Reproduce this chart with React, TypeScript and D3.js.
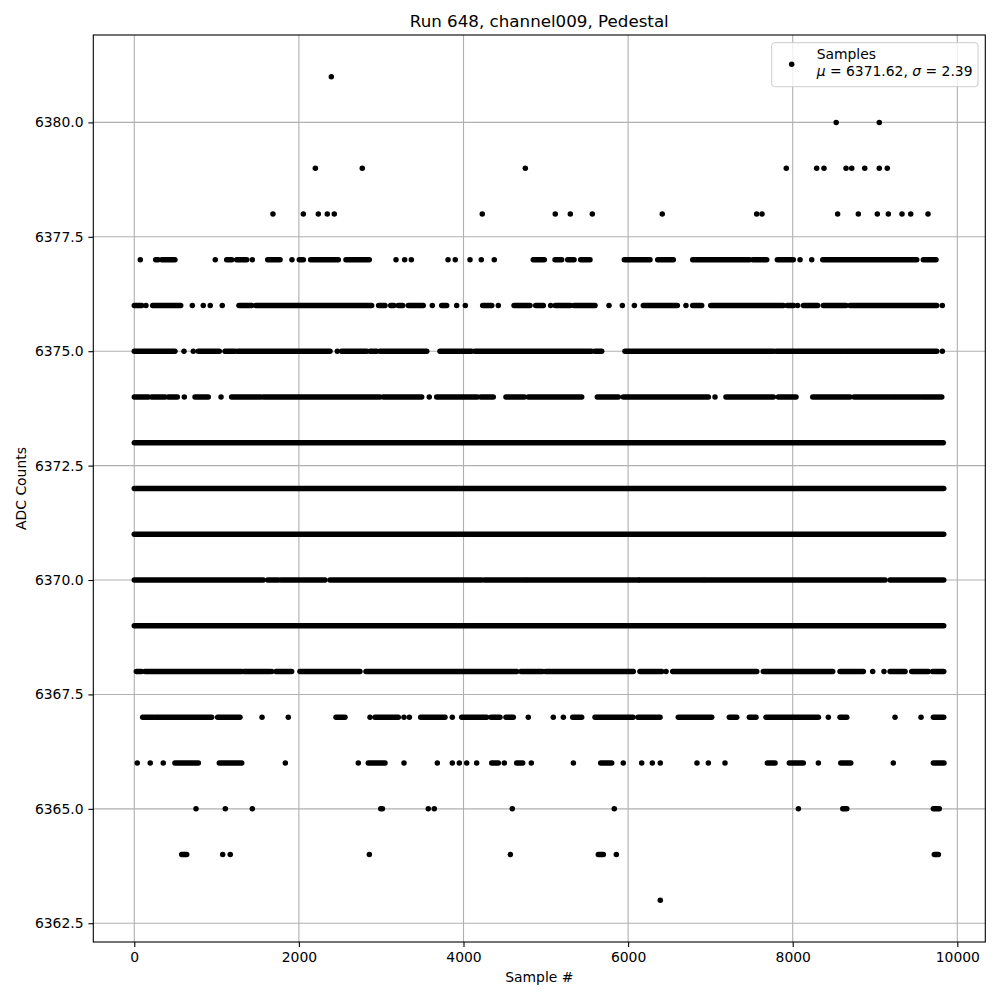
import { useEffect, useRef } from 'react'
import * as d3 from 'd3'

type Run = [number, number?]

const xTicks = [0, 2000, 4000, 6000, 8000, 10000]
const yTicks = [6362.5, 6365, 6367.5, 6370, 6372.5, 6375, 6377.5, 6380]

// runs of samples: [first, last] or [single]
const runs6381: Run[] = [[2394]]
const runs6380: Run[] = [[8528], [9052]]
const runs6379: Run[] = [[2200], [2770], [4751], [7922], [8291], [8380], [8648], [8717], [8875], [9052], [9149]]
const runs6378: Run[] = [[1685], [2054], [2236], [2345], [2430], [4228], [5115], [5298], [5565], [6415], [7562], [7627], [8546], [8797], [9028], [9162], [9328], [9434], [9644]]
const runs6377: Run[] = [[73], [260, 290], [335, 494], [984], [1123, 1184], [1244, 1366], [1434], [1621, 1771], [1916], [2005, 2054], [2143, 2479], [2572, 2855], [3180], [3285], [3366], [3812], [3900], [4079], [4216], [4374], [4848, 4982], [5112, 5193], [5266, 5343], [5424, 5537], [5954, 6266], [6360, 6549], [6785, 7473], [7514, 7684], [7813, 8007], [8089], [8231], [8365, 9507], [9587, 9741]]
const runs6376: Run[] = [[0, 90], [142], [223, 564], [705], [838], [923], [1069], [1272, 1426], [1475, 2884], [2969, 3046], [3115, 3155], [3208, 3261], [3329, 3511], [3621], [3735, 3796], [3917], [4022], [4233, 4343], [4423], [4614, 4808], [4877, 4970], [5059], [5115, 5302], [5343, 5598], [5768], [5930], [6076], [6185, 6598], [6703], [6785, 6894], [7004, 7886], [7934, 8010], [8060], [8130, 8303], [8372, 8648], [8696, 9750], [9818]]
const runs6375: Run[] = [[0, 494], [604], [717], [778, 1033], [1102, 1224], [1256, 2378], [2467], [2520, 2824], [2864, 2945], [2985, 3553], [3714, 4100], [4140, 5558], [5598, 5679], [5962, 7765], [7797, 8615], [8636, 9750], [9818]]
const runs6374: Run[] = [[0, 170], [211, 373], [413, 523], [608], [738, 899], [1054], [1183, 1536], [1567, 2985], [3025, 3492], [3584], [3674, 4168], [4209, 4362], [4516, 4739], [4787, 5436], [5626, 5881], [5941, 6975], [7056], [7189, 7765], [7825, 8040], [8243, 8696], [8745, 9231], [9255, 9547], [9575, 9811]]
const runs6373: Run[] = [[0, 9830]]
const runs6372: Run[] = [[0, 9835]]
const runs6371: Run[] = [[0, 9835]]
const runs6370: Run[] = [[0, 1567], [1621, 1750], [1782, 2013], [2041, 2317], [2378, 4221], [4253, 4747], [4768, 5941], [5966, 6124], [6136, 6914], [6934, 9122], [9183, 9835]]
const runs6369: Run[] = [[0, 9835]]
const runs6368: Run[] = [[25, 85], [130, 1305], [1333, 1649], [1669], [1722, 1912], [2013, 2742], [2815, 4646], [4699, 4962], [4994, 6063], [6144, 6408], [6461], [6542, 7563], [7643, 8486], [8575, 8858], [8972], [9109], [9183, 9365], [9446, 9648], [9701, 9835]]
const runs6367: Run[] = [[102, 231], [255, 940], [1013, 1284], [1552], [1871], [2451, 2560], [2864], [2925, 3208], [3277], [3342], [3480, 3775], [3864], [3978, 4282], [4334, 4443], [4516, 4605], [4787], [5091], [5213], [5327, 5436], [5598, 6060], [6120, 6388], [6610, 7016], [7230, 7320], [7473, 7554], [7676, 8312], [8433], [8575, 8657], [9243], [9559], [9709, 9835]]
const runs6366: Run[] = [[36], [194], [352], [494, 778], [1033, 1305], [1835], [2722], [2843, 3046], [3277], [3682], [3864], [3949], [4039], [4160], [4343, 4423], [4496], [4646, 4719], [4824], [5335], [5667, 5801], [5941], [6165], [6294], [6391], [6837], [6975], [7177], [7692, 7785], [7959, 8129], [8312], [8584, 8705], [9222], [9709, 9838]]
const runs6365: Run[] = [[750], [1106], [1434], [2995, 3015], [3572], [3645], [4593], [5832], [8069], [8608, 8657], [9709, 9781]]
const runs6364: Run[] = [[576, 637], [1074], [1166], [2856], [4569], [5638, 5699], [5857], [9721, 9770]]
const runs6363: Run[] = [[6391]]

const rows = [
  { level: 6381, runs: runs6381 },
  { level: 6380, runs: runs6380 },
  { level: 6379, runs: runs6379 },
  { level: 6378, runs: runs6378 },
  { level: 6377, runs: runs6377 },
  { level: 6376, runs: runs6376 },
  { level: 6375, runs: runs6375 },
  { level: 6374, runs: runs6374 },
  { level: 6373, runs: runs6373 },
  { level: 6372, runs: runs6372 },
  { level: 6371, runs: runs6371 },
  { level: 6370, runs: runs6370 },
  { level: 6369, runs: runs6369 },
  { level: 6368, runs: runs6368 },
  { level: 6367, runs: runs6367 },
  { level: 6366, runs: runs6366 },
  { level: 6365, runs: runs6365 },
  { level: 6364, runs: runs6364 },
  { level: 6363, runs: runs6363 },
]

const FONT = 'DejaVu Sans, sans-serif'

export default function App() {
  const svgRef = useRef<SVGSVGElement>(null)

  useEffect(() => {
    if (!svgRef.current) return
    const svg = d3.select(svgRef.current)
    svg.selectAll('*').remove()

    const left = 93.3, right = 985.3, top = 35, bottom = 942

    const x = d3.scaleLinear().domain([-498, 10340]).range([left, right])
    const y = d3.scaleLinear().domain([6362.09, 6381.91]).range([bottom, top])

    svg.append('rect').attr('width', 1000).attr('height', 1000).attr('fill', '#fff')

    // grid
    const grid = svg.append('g')
    grid.selectAll('line.gx').data(xTicks).join('line')
      .attr('x1', d => x(d)).attr('x2', d => x(d))
      .attr('y1', top).attr('y2', bottom)
      .attr('stroke', '#b0b0b0').attr('stroke-width', 1.1)
    grid.selectAll('line.gy').data(yTicks).join('line')
      .attr('class', 'gy')
      .attr('x1', left).attr('x2', right)
      .attr('y1', d => y(d)).attr('y2', d => y(d))
      .attr('stroke', '#b0b0b0').attr('stroke-width', 1.1)

    // points, drawn as runs of dots
    const flat = rows.flatMap(r => r.runs.map(run => ({ level: r.level, a: run[0], b: run[1] ?? run[0] })))
    svg.append('g')
      .selectAll('line')
      .data(flat)
      .join('line')
      .attr('x1', d => x(d.a)).attr('x2', d => x(d.b))
      .attr('y1', d => y(d.level)).attr('y2', d => y(d.level))
      .attr('stroke', '#000')
      .attr('stroke-width', 5.5)
      .attr('stroke-linecap', 'round')

    // axes
    const styleAxis = (g: d3.Selection<SVGGElement, unknown, null, undefined>) => {
      g.select('.domain').remove()
      g.selectAll('.tick line').attr('stroke', '#000').attr('stroke-width', 1.1)
      g.selectAll('.tick text')
        .attr('fill', '#000')
        .style('font-family', FONT)
        .style('font-size', '13.9px')
    }

    svg.append('g')
      .attr('transform', `translate(0,${bottom})`)
      .call(d3.axisBottom(x).tickValues(xTicks).tickFormat(d3.format('d')).tickSize(4.9).tickPadding(4.9))
      .call(styleAxis)

    svg.append('g')
      .attr('transform', `translate(${left},0)`)
      .call(d3.axisLeft(y).tickValues(yTicks).tickFormat(d3.format('.1f')).tickSize(4.9).tickPadding(4.9))
      .call(styleAxis)

    svg.append('rect')
      .attr('x', left).attr('y', top)
      .attr('width', right - left).attr('height', bottom - top)
      .attr('fill', 'none').attr('stroke', '#000').attr('stroke-width', 1.1)

    // labels
    svg.append('text')
      .attr('x', (left + right) / 2).attr('y', 26.7)
      .attr('text-anchor', 'middle')
      .style('font-family', FONT).style('font-size', '16.7px')
      .text('Run 648, channel009, Pedestal')

    svg.append('text')
      .attr('x', (left + right) / 2).attr('y', 982)
      .attr('text-anchor', 'middle')
      .style('font-family', FONT).style('font-size', '13.9px')
      .text('Sample #')

    svg.append('text')
      .attr('transform', `translate(26,${(top + bottom) / 2}) rotate(-90)`)
      .attr('text-anchor', 'middle')
      .style('font-family', FONT).style('font-size', '13.9px')
      .text('ADC Counts')

    // legend
    const lg = svg.append('g')
    lg.append('rect')
      .attr('x', 771.7).attr('y', 42.7)
      .attr('width', 206.3).attr('height', 44)
      .attr('rx', 2.8)
      .attr('fill', '#fff').attr('fill-opacity', 0.8)
      .attr('stroke', '#cccccc').attr('stroke-width', 1)
    lg.append('circle').attr('cx', 791.7).attr('cy', 64.3).attr('r', 2.75).attr('fill', '#000')
    lg.append('text')
      .attr('x', 816.7).attr('y', 58.5)
      .style('font-family', FONT).style('font-size', '13.9px')
      .text('Samples')
    const t2 = lg.append('text')
      .attr('x', 816.7).attr('y', 75.5)
      .style('font-family', FONT).style('font-size', '13.9px')
    t2.append('tspan').style('font-style', 'italic').text('μ')
    t2.append('tspan').text(' = 6371.62, ')
    t2.append('tspan').style('font-style', 'italic').text('σ')
    t2.append('tspan').text(' = 2.39')
  }, [])

  return (
    <svg ref={svgRef} width={1000} height={1000} style={{ position: 'absolute', left: 0, top: 0 }} />
  )
}
